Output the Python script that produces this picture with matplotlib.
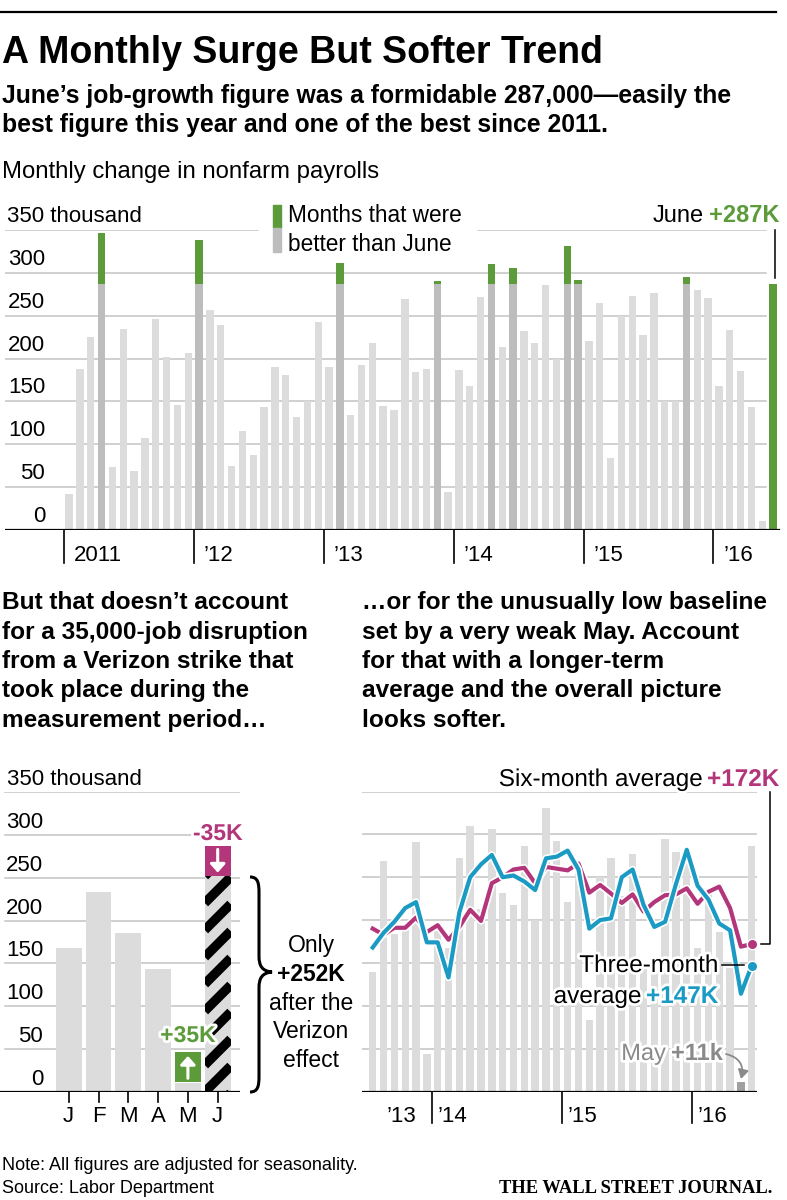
import numpy as np
import matplotlib
matplotlib.use("Agg")
import matplotlib.pyplot as plt
import matplotlib.patheffects as pe
from matplotlib import transforms
from matplotlib.patches import Rectangle, PathPatch
from matplotlib.path import Path
from matplotlib.lines import Line2D

# monthly change in nonfarm payrolls, thousands
jobs_2011 = [42, 188, 225, 346, 73, 235, 69, 107, 246, 202, 146, 207]
jobs_2012 = [338, 257, 239, 75, 115, 87, 143, 190, 181, 132, 150, 243]
jobs_2013 = [190, 311, 134, 192, 218, 145, 140, 269, 184, 188, 291, 44]
jobs_2014 = [187, 168, 272, 310, 213, 306, 232, 218, 286, 200, 331, 292]
jobs_2015 = [221, 265, 84, 250, 273, 228, 277, 150, 150, 295, 280, 271]
jobs_2016 = [168, 233, 186, 144, 11, 287]
year_labels = ["2011", "’12", "’13", "’14", "’15", "’16"]
month_letters = ["J", "F", "M", "A", "M", "J"]
verizon_strike = 35

# Jul 2013 - Jun 2016
three_month_avg = [168, 185, 198, 214, 221, 174, 174, 133, 209, 250, 265, 276,
                   250, 252, 245, 235, 272, 274, 281, 259, 190, 200, 202, 250,
                   259, 218, 192, 198, 242, 282, 240, 224, 196, 188, 114, 147]
six_month_avg = [190, 183, 191, 191, 203, 186, 194, 177, 192, 212, 199, 243,
                 250, 259, 261, 243, 262, 260, 258, 266, 232, 241, 231, 220,
                 230, 210, 221, 229, 230, 237, 219, 233, 239, 214, 169, 172]

plt.rcParams["font.family"] = ["Liberation Sans", "DejaVu Sans"]

W, H = 787, 1200
fig = plt.figure(figsize=(W / 100, H / 100), dpi=100)
PX = transforms.Affine2D().scale(1, -1).translate(0, H)  # pixels, origin top left

LIGHT = "#dcdcdc"
MID = "#bdbdbd"
DARK = "#a0a0a0"
GRID = "#c4c4c4"
GREEN = "#5c9b3a"
MAGENTA = "#b3357a"
BLUE = "#1b9bc4"
GRAYTXT = "#8a8a8a"
YPX = 300 / 350  # pixels per thousand
halo = [pe.withStroke(linewidth=4, foreground="white")]


def px_axes(l, t, r, b):
    ax = fig.add_axes([l / W, 1 - b / H, (r - l) / W, (b - t) / H])
    ax.set_axis_off()
    ax.patch.set_visible(False)
    ax.set_ylim(0, 350)
    return ax


def ftext(x, y, s, size=16, **kw):
    return fig.text(x, y, s, transform=PX, fontsize=size, va="baseline", **kw)


def fline(xs, ys, **kw):
    kw.setdefault("color", "black")
    kw.setdefault("lw", 1.1)
    fig.add_artist(Line2D(xs, ys, transform=PX, **kw))


def label_pair(ax, x, y, left, right, rcolor, lcolor="black", size=16, **kw):
    t = ftext(x, y, right, size, ha="right", color=rcolor, weight="bold", **kw)
    ax.annotate(left, xy=(0, 0), xycoords=t, xytext=(-5, 0), textcoords="offset pixels",
                ha="right", va="bottom", fontsize=size, color=lcolor,
                annotation_clip=False, **kw)


def grid(ax, left_px, right_px, ax_l, ax_r, values=range(50, 351, 50)):
    w = ax_r - ax_l
    for v in values:
        ax.axhline(v, (left_px - ax_l) / w, (right_px - ax_l) / w, color=GRID, lw=1.1, zorder=1)


def ylabels(ax, x_px, off=8, size=16):
    tr = transforms.offset_copy(transforms.blended_transform_factory(PX, ax.transData),
                                fig=fig, y=off, units="dots")
    for v in range(0, 301, 50):
        ax.text(x_px, v, str(v), transform=tr, ha="right", va="baseline", fontsize=size)


# ---------- header ----------
fline([0, 776], [11.7, 11.7], lw=1.6)
ftext(2, 63, "A Monthly Surge But Softer Trend", 27, weight="bold")
ftext(2, 103, "June’s job-growth figure was a formidable 287,000—easily the", 17.8, weight="bold")
ftext(2, 132, "best figure this year and one of the best since 2011.", 17.8, weight="bold")
ftext(2, 178, "Monthly change in nonfarm payrolls", 17.2)

# ---------- top chart ----------
years = [jobs_2011, jobs_2012, jobs_2013, jobs_2014, jobs_2015, jobs_2016]
payrolls = np.array(sum(years, []))
idx = np.arange(len(payrolls))
june = payrolls[-1]

ax1 = px_axes(5, 230, 781, 530)
step, x0 = 10.83, 69.1
ax1.set_xlim((5 - x0) / step, (781 - x0) / step)

better = payrolls > june
better[-1] = False
base = np.where(better, june, payrolls)
cols = np.where(better, MID, LIGHT).astype(object)
cols[-1] = GREEN
ax1.bar(idx, base, width=0.68, color=list(cols), zorder=2)
ax1.bar(idx[better], payrolls[better] - june, bottom=june, width=0.68, color=GREEN, zorder=2)

grid(ax1, 5, 766, 5, 781, range(50, 301, 50))
grid(ax1, 5, 258, 5, 781, [350])
grid(ax1, 478, 766, 5, 781, [350])
ax1.axhline(0, 0, (779 - 5) / 776, color="black", lw=1.6, zorder=3)
ylabels(ax1, 45)
ax1.text(7, 350, "350 thousand", fontsize=16, va="baseline",
         transform=transforms.offset_copy(transforms.blended_transform_factory(PX, ax1.transData),
                                          fig=fig, y=8, units="dots"))

xtr1 = transforms.blended_transform_factory(ax1.transData, PX)
start = 0
for lab, yr in zip(year_labels, years):
    b = start - 0.5
    ax1.plot([b, b], [530, 563], transform=xtr1, color="black", lw=1.2, clip_on=False)
    ax1.text(b, 561, lab, fontsize=16, ha="left", va="baseline",
             transform=transforms.offset_copy(xtr1, fig=fig, x=10, units="dots"))
    start += len(yr)

fig.add_artist(Rectangle((273, 205), 7.5, 23, transform=PX, color=GREEN))
fig.add_artist(Rectangle((273, 228), 7.5, 24, transform=PX, color=MID))
ftext(288, 222, "Months that were", 16.3)
ftext(288, 251, "better than June", 16.3)
label_pair(ax1, 779, 222, "June", f"+{june}K", GREEN, size=17)
fline([775, 775], [230, 278])

# ---------- text blocks ----------
left_par = ["But that doesn’t account", "for a 35,000-job disruption",
            "from a Verizon strike that", "took place during the", "measurement period…"]
right_par = ["…or for the unusually low baseline", "set by a very weak May. Account",
             "for that with a longer-term", "average and the overall picture", "looks softer."]
for k, (a, b) in enumerate(zip(left_par, right_par)):
    ftext(2, 609 + 29.5 * k, a, 17.6, weight="bold")
    ftext(362, 609 + 29.5 * k, b, 17.6, weight="bold")

# ---------- bottom left: Verizon effect ----------
this_year = np.array(jobs_2016)
june_adj = this_year[-1] - verizon_strike
ax2 = px_axes(0, 792, 240, 1092)
step2, x02 = 29.8, 68.7
ax2.set_xlim((0 - x02) / step2, (240 - x02) / step2)
bw = 0.87
ax2.bar(range(5), this_year[:5], width=bw, color=LIGHT, zorder=2)
jb = ax2.bar(5, june_adj, width=bw, color=LIGHT, zorder=2)[0]
# black diagonal stripes clipped to the adjusted June bar
slope = step2 / YPX
period = 27 / YPX
for k in range(-4, 12):
    y0 = k * period
    ln, = ax2.plot([5 - bw / 2, 5 + bw / 2], [y0, y0 + bw * slope], color="black",
                   lw=6.8, solid_capstyle="butt", zorder=3)
    ln.set_clip_path(jb)
ax2.bar(5, verizon_strike, bottom=june_adj, width=bw, color=MAGENTA, zorder=2)
ax2.bar(4, verizon_strike, bottom=this_year[4] + 1, width=bw, color=GREEN, zorder=2)
arr = dict(arrowstyle="-|>,head_width=0.45,head_length=0.5", color="white", lw=2.2,
           mutation_scale=10, shrinkA=0, shrinkB=0)
ax2.annotate("", xy=(4, this_year[4] + 31), xytext=(4, this_year[4] + 5), arrowprops=arr, zorder=4)
ax2.annotate("", xy=(5, june_adj + 4), xytext=(5, june_adj + verizon_strike - 4), arrowprops=arr, zorder=4)

grid(ax2, 5, 240, 0, 240)
ax2.axhline(0, 0, 1, color="black", lw=1.6, zorder=3)
ylabels(ax2, 43, off=7)
ax2.text(7, 350, "350 thousand", fontsize=16, va="baseline",
         transform=transforms.offset_copy(transforms.blended_transform_factory(PX, ax2.transData),
                                          fig=fig, y=7, units="dots"))
xtr2 = transforms.blended_transform_factory(ax2.transData, PX)
for k, m in enumerate(month_letters):
    ax2.plot([k, k], [1092, 1102], transform=xtr2, color="black", lw=1.2, clip_on=False)
    ax2.text(k, 1122, m, transform=xtr2, ha="center", va="baseline", fontsize=16)
ax2.text(4, 1042, f"+{verizon_strike}K", transform=xtr2, ha="center", va="baseline",
         fontsize=16.5, weight="bold", color=GREEN, path_effects=halo, zorder=5)
ax2.text(5, 840, f"-{verizon_strike}K", transform=xtr2, ha="center", va="baseline",
         fontsize=16.5, weight="bold", color=MAGENTA, path_effects=halo, zorder=5)

# curly brace
brace = Path([(250, 877), (258, 877), (259, 883), (259, 893),
              (259, 956),
              (259, 966), (262, 971), (272, 972),
              (262, 973), (259, 978), (259, 988),
              (259, 1076),
              (259, 1086), (258, 1092), (250, 1092)],
             [Path.MOVETO, Path.CURVE4, Path.CURVE4, Path.CURVE4,
              Path.LINETO,
              Path.CURVE4, Path.CURVE4, Path.CURVE4,
              Path.CURVE4, Path.CURVE4, Path.CURVE4,
              Path.LINETO,
              Path.CURVE4, Path.CURVE4, Path.CURVE4])
fig.add_artist(PathPatch(brace, transform=PX, fill=False, lw=2.2, edgecolor="black"))
for k, (s, wt) in enumerate([("Only", "normal"), (f"+{june_adj}K", "bold"), ("after the", "normal"),
                              ("Verizon", "normal"), ("effect", "normal")]):
    ftext(311, 952 + 28.8 * k, s, 16.5, ha="center", weight=wt)

# ---------- bottom right: moving averages ----------
recent = payrolls[-36:]
ax3 = px_axes(362, 791.5, 757, 1091.5)
step3, x03 = 10.83, 372.7
ax3.set_xlim((362 - x03) / step3, (757 - x03) / step3)
i3 = np.arange(len(recent))
cols3 = [LIGHT] * len(recent)
cols3[-2] = DARK
ax3.bar(i3, recent, width=0.68, color=cols3, zorder=2)
grid(ax3, 362, 757, 362, 757)
ax3.axhline(0, 0, 1, color="black", lw=1.6, zorder=3)
line_fx = [pe.Stroke(linewidth=5.4, foreground="white"), pe.Normal()]
ax3.plot(i3, six_month_avg, color=MAGENTA, lw=3, path_effects=line_fx, zorder=4)
ax3.plot(i3, three_month_avg, color=BLUE, lw=3, path_effects=line_fx, zorder=5)
ax3.plot(i3[-1], six_month_avg[-1], "o", ms=7.5, color=MAGENTA, mec="white", mew=1, zorder=6, clip_on=False)
ax3.plot(i3[-1], three_month_avg[-1], "o", ms=7.5, color=BLUE, mec="white", mew=1, zorder=6, clip_on=False)

xtr3 = transforms.blended_transform_factory(ax3.transData, PX)
first_month = len(payrolls) - len(recent)
jan = [k for k in i3 if (first_month + k) % 12 == 0]
for n, k in enumerate(jan):
    ax3.plot([k - 0.5, k - 0.5], [1092, 1123], transform=xtr3, color="black", lw=1.2, clip_on=False)
    ax3.text(k - 0.5, 1122, year_labels[3 + n], ha="left", va="baseline", fontsize=16,
             transform=transforms.offset_copy(xtr3, fig=fig, x=5, units="dots"))
ax3.text(jan[0] - 0.5, 1122, year_labels[2], ha="right", va="baseline", fontsize=16,
         transform=transforms.offset_copy(xtr3, fig=fig, x=-16, units="dots"))

label_pair(ax3, 779, 786, "Six-month average", f"+{six_month_avg[-1]}K", MAGENTA, size=17.5,
           path_effects=halo)
fline([770, 770, 761], [792, 944, 944])
ftext(718, 972, "Three-month", 17.5, ha="right", path_effects=halo)
label_pair(ax3, 718, 1003, "average", f"+{three_month_avg[-1]}K", BLUE, size=17.5, path_effects=halo)
fline([722, 744], [965, 965])
label_pair(ax3, 723, 1060, "May", f"+{recent[-2]}k", GRAYTXT, lcolor=GRAYTXT, size=17,
           path_effects=halo)
ax3.annotate("", xy=(741, 1079), xycoords=PX, xytext=(726, 1054), textcoords=PX,
             arrowprops=dict(arrowstyle="-|>,head_width=0.35,head_length=0.6", color=GRAYTXT,
                             lw=1.3, mutation_scale=9, shrinkA=0, shrinkB=0,
                             connectionstyle="arc3,rad=-0.5"),
             annotation_clip=False)

# ---------- footer ----------
ftext(2, 1170, "Note: All figures are adjusted for seasonality.", 13)
ftext(2, 1193, "Source: Labor Department", 13)
ftext(772, 1193, "THE WALL STREET JOURNAL.", 13.3, ha="right", family="Liberation Serif", weight="bold")

fig.savefig("out.png", dpi=100)
